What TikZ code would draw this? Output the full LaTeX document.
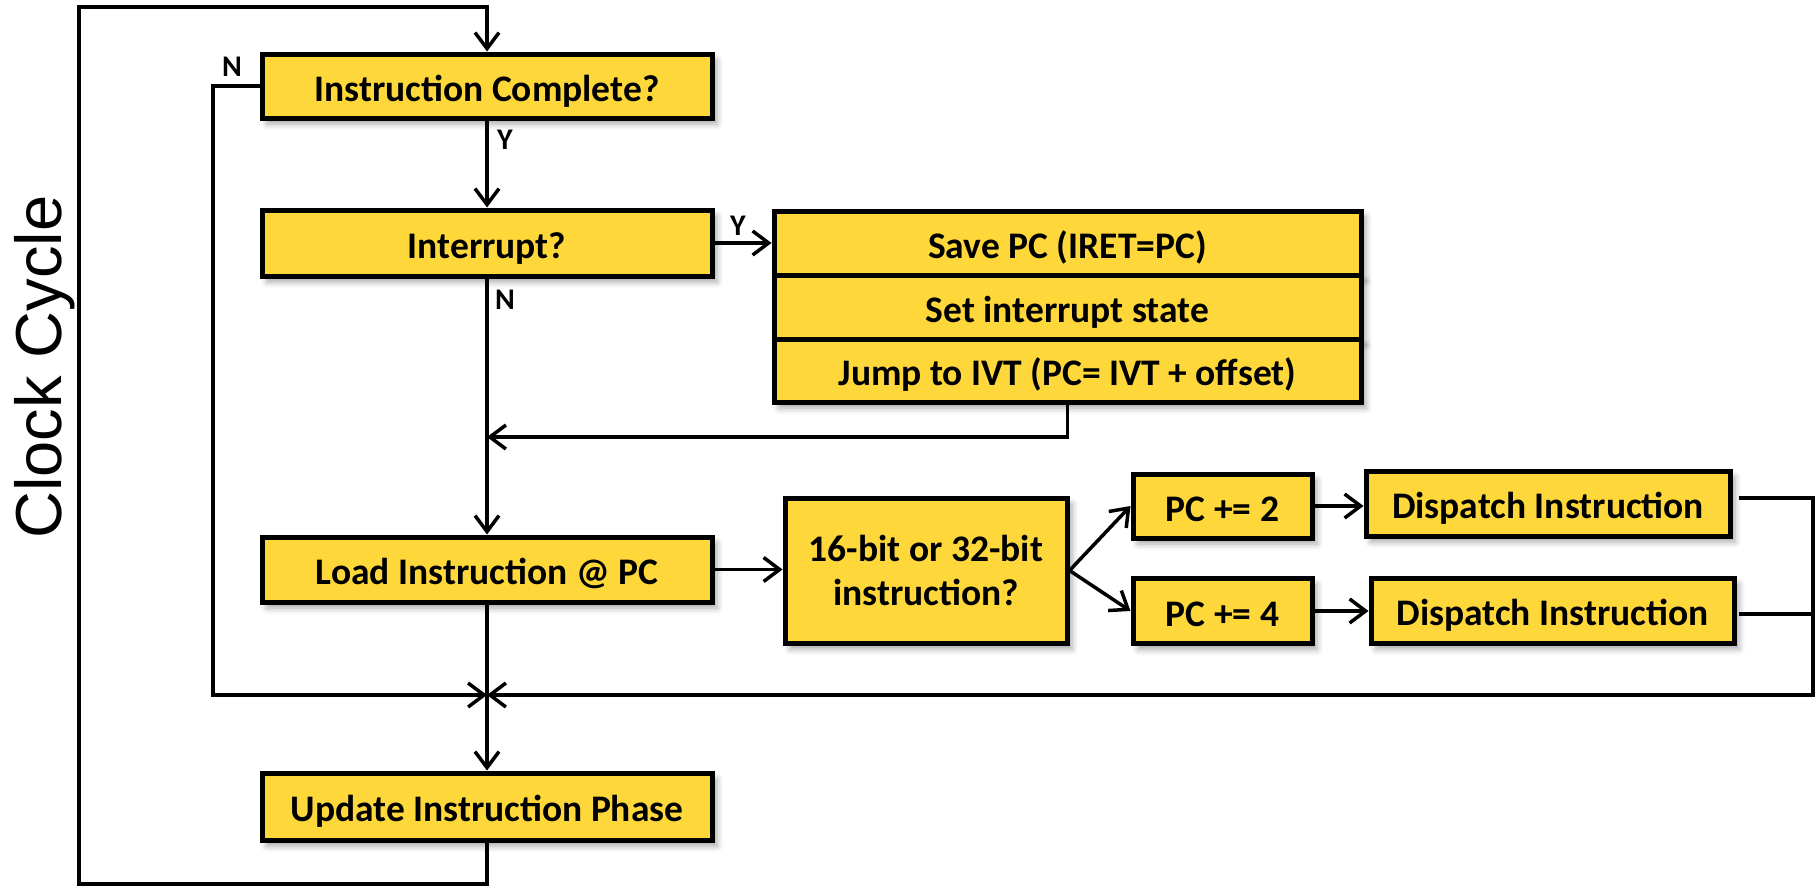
\documentclass[tikz,border=0pt]{standalone}
\usepackage{fontspec}
\setmainfont{Carlito}
\newfontfamily\arialfont{Liberation Sans}
\usetikzlibrary{arrows.meta,shadows.blur,calc}
\definecolor{boxgold}{RGB}{254,216,58}
\tikzset{
  flowbox/.style={draw=black, line width=5pt, fill=boxgold, align=center, inner sep=0pt,
    font=\fontsize{37.5}{44}\selectfont\bfseries,
    blur shadow={shadow xshift=5pt, shadow yshift=-6pt, shadow blur radius=6pt, shadow opacity=35}},
  oneline/.style={flowbox, text height=30pt, text depth=0pt},
  link/.style={draw=black, line width=3.5pt},
  arr/.style={link, -{Straight Barb[length=16pt,width=24pt,line width=3.5pt]}},
  tag/.style={font=\fontsize{30}{34}\selectfont\bfseries, inner sep=0pt},
}
\begin{document}
\begin{tikzpicture}[x=1pt,y=-1pt]
\useasboundingbox (0,0) rectangle (1818,886);

% main column
\node[oneline, minimum width=450pt, minimum height=64pt] (done) at (487,86) {Instruction Complete?};
\node[oneline, minimum width=450pt, minimum height=66pt] (intr) at (487,243) {Interrupt?};
\node[oneline, minimum width=450pt, minimum height=65pt] (load) at (487,569.5) {Load Instruction @ PC};
\node[oneline, minimum width=450pt, minimum height=67pt] (upd) at (487,806.5) {Update Instruction Phase};

% interrupt handling stack
\node[oneline, minimum width=587pt, minimum height=64pt] (save) at (1067.5,243) {Save PC (IRET=PC)};
\node[oneline, minimum width=587pt, minimum height=64pt] (state) at (1067.5,307) {Set interrupt state};
\node[oneline, minimum width=587pt, minimum height=63pt] (jump) at (1067.5,370.5) {Jump to IVT (PC= IVT + offset)};

% instruction size branch
\node[flowbox, minimum width=282pt, minimum height=145pt] (size) at (926,570.5) {16-bit or 32-bit\\instruction?};
\node[oneline, minimum width=179pt, minimum height=64pt] (pc2) at (1222.5,506) {PC += 2};
\node[oneline, minimum width=179pt, minimum height=65pt] (pc4) at (1222.5,611) {PC += 4};
\node[oneline, minimum width=364pt, minimum height=65pt] (disp2) at (1548,503.5) {Dispatch Instruction};
\node[oneline, minimum width=363pt, minimum height=65pt] (disp4) at (1552.5,610.5) {Dispatch Instruction};

% side caption
\node[font=\arialfont\fontsize{65}{70}\selectfont, rotate=90, inner sep=0pt] (clk) at (45,367) {Clock Cycle};

% helper points
\coordinate (topleft) at (79,7);
\coordinate (botleft) at (79,884);
\coordinate (nleft) at (213,695);
\coordinate (merge) at (487,695);
\coordinate (ijoin) at (487,437);
\coordinate (r2) at (1739,498);
\coordinate (r4) at (1739,614);
\coordinate (rc) at (1813,695);

% outer clock loop
\draw[arr] (upd.south) -- (upd.south |- botleft) -- (botleft) -- (topleft) -- (topleft -| done.north) -- (done.north);

% decisions
\draw[arr] (done.west) -| (nleft) -- (merge);
\node[tag] (n1) at (232,67) {N};
\draw[arr] (done.south) -- (intr.north);
\node[tag] (y1) at (505,140) {Y};
\draw[arr] (intr.east) -- (save.west);
\node[tag] (y2) at (738,226) {Y};
\draw[arr] (intr.south) -- (load.north);
\node[tag] (n2) at (505,300) {N};
\draw[arr] (jump.south) |- (ijoin);

% fetch and dispatch
\draw[arr] (load.east) -- (load.east -| size.west);
\draw[arr] (size.east) -- (pc2.west);
\draw[arr] (size.east) -- (pc4.west);
\draw[arr] (pc2.east) -- (pc2.east -| disp2.west);
\draw[arr] (pc4.east) -- (pc4.east -| disp4.west);
\draw[arr] (r2) -| (rc) -- (merge);
\draw[link] (r4) -- (r4 -| rc);
\draw[arr] (load.south) -- (upd.north);
\end{tikzpicture}
\end{document}
